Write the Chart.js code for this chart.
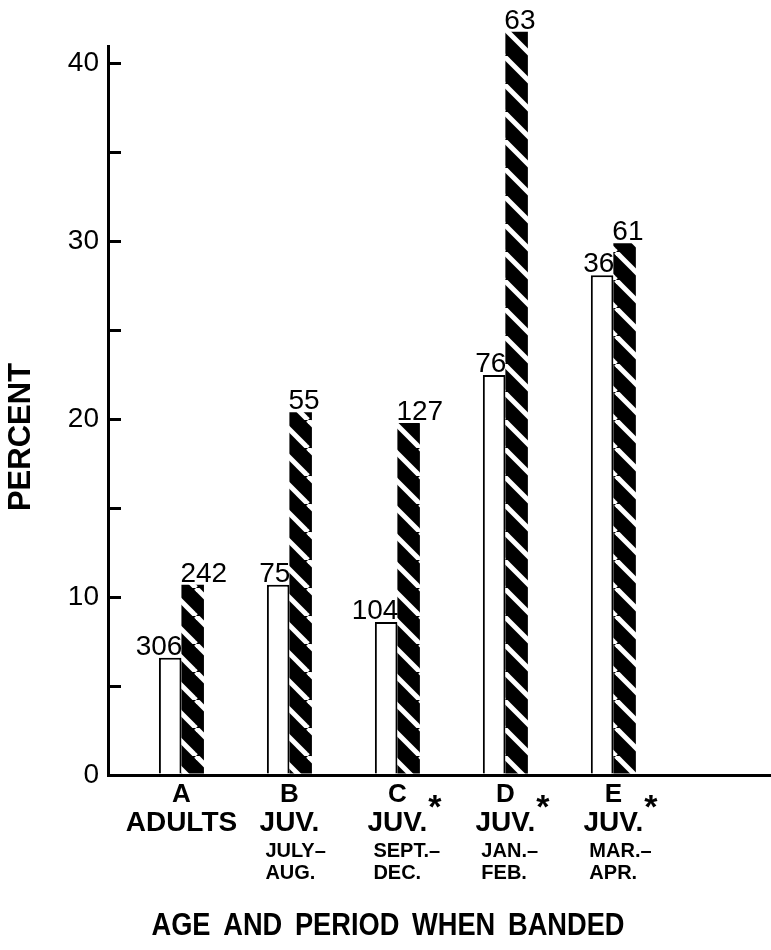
<!DOCTYPE html>
<html>
<head>
<meta charset="utf-8">
<script src="https://cdn.jsdelivr.net/npm/chart.js@4.4.0/dist/chart.umd.min.js"></script>
<style>
  body { margin: 0; background: #fff; }
  #contenedor { width: 771px; height: 950px; }
</style>
</head>
<body>
<div id="contenedor"><canvas id="grafico-bandas" width="771" height="950"></canvas></div>
<script>
// Categorias del eje X
var letras = ["A", "B", "C", "D", "E"];
var grupos = ["ADULTS", "JUV.", "JUV.", "JUV.", "JUV."];
var asterisco = [false, false, true, true, true];
var periodos = [[], ["JULY–", "AUG."], ["SEPT.–", "DEC."], ["JAN.–", "FEB."], ["MAR.–", "APR."]];
var posiciones = [1, 2, 3, 4, 5];

// Porcentajes (barra blanca y barra rayada)
var blancos = [6.6, 10.7, 8.6, 22.5, 28.1];
var rayados = [10.7, 20.4, 19.8, 41.8, 29.9];

// Tamaños de muestra sobre cada barra
var nBlancos = [306, 75, 104, 76, 36];
var nRayados = [242, 55, 127, 63, 61];

// Textos de los ejes
var tituloX = "AGE AND PERIOD WHEN BANDED";
var tituloY = "PERCENT";
var marcasY = [0, 10, 20, 30, 40];

var ctx = document.getElementById("grafico-bandas").getContext("2d");

// Patron de rayas diagonales blancas sobre negro
function crearRayado() {
  var p = 28;
  var lienzo = document.createElement("canvas");
  lienzo.width = p;
  lienzo.height = p;
  var g = lienzo.getContext("2d");
  g.fillStyle = "#000";
  g.fillRect(0, 0, p, p);
  g.strokeStyle = "#fff";
  g.lineWidth = 5;
  for (var k = -1; k <= 1; k++) {
    g.beginPath();
    g.moveTo(k * p, 0);
    g.lineTo(k * p + p, p);
    g.stroke();
  }
  return ctx.createPattern(lienzo, "repeat");
}

function puntos(valores) {
  return posiciones.map(function (x, i) {
    return { x: x, y: valores[i] };
  });
}

// Etiquetas: numeros sobre barras, categorias y titulos
var etiquetas = {
  id: "etiquetas",
  afterDatasetsDraw: function (chart) {
    var c = chart.ctx;
    var conteos = [nBlancos, nRayados];
    c.save();
    c.fillStyle = "#000";
    c.textBaseline = "alphabetic";
    c.font = "28px 'Liberation Sans'";
    chart.data.datasets.forEach(function (ds, d) {
      chart.getDatasetMeta(d).data.forEach(function (barra, i) {
        if (d === 0) {
          c.textAlign = "right";
          c.fillText(conteos[d][i], barra.x + barra.width / 2 + 1, barra.y - 3);
        } else {
          c.textAlign = "left";
          c.fillText(conteos[d][i], barra.x - barra.width / 2 - 1, barra.y - 3);
        }
      });
    });

    var escalaX = chart.scales.x;
    posiciones.forEach(function (p, i) {
      var cx = escalaX.getPixelForValue(p);
      c.textAlign = "center";
      c.font = "bold 26px 'Liberation Sans'";
      c.fillText(letras[i], cx, 802);
      c.font = "bold 28px 'Liberation Sans'";
      c.fillText(grupos[i], cx, 831);
      if (asterisco[i]) {
        var w = c.measureText(grupos[i]).width;
        c.textAlign = "left";
        c.font = "bold 34px 'Liberation Sans'";
        c.fillText("*", cx + w / 2 + 1, 818);
      }
      c.textAlign = "left";
      c.font = "bold 20px 'Liberation Sans'";
      periodos[i].forEach(function (t, j) {
        c.fillText(t, cx - 24, 857 + j * 22);
      });
    });

    c.textAlign = "center";
    c.font = "bold 32px 'Liberation Sans'";
    c.wordSpacing = "6px";
    c.fillText(tituloX, 388, 935, 473);
    c.wordSpacing = "0px";
    c.translate(21, 437);
    c.rotate(-Math.PI / 2);
    c.textBaseline = "middle";
    c.font = "bold 31px 'Liberation Sans'";
    c.fillText(tituloY, 0, 0);
    c.restore();
  }
};

var data = {
  datasets: [
    {
      data: puntos(blancos),
      backgroundColor: "#fff",
      borderColor: "#000",
      borderWidth: 2,
      clip: false,
    },
    {
      data: puntos(rayados),
      backgroundColor: crearRayado(),
      borderWidth: 0,
      clip: false,
    },
  ],
};

var options = {
  responsive: false,
  animation: false,
  layout: { padding: { top: 46, left: 0, right: 0, bottom: 0 } },
  plugins: {
    legend: { display: false },
    tooltip: { enabled: false },
  },
  datasets: {
    bar: { categoryPercentage: 0.417, barPercentage: 1 },
  },
  scales: {
    x: {
      type: "linear",
      offset: false,
      min: 0.32,
      max: 6.46,
      grid: { display: false },
      ticks: { display: false, stepSize: 1, includeBounds: false },
      border: { display: true, color: "#000", width: 3 },
      afterFit: function (escala) {
        escala.height = 175;
      },
    },
    y: {
      min: 0,
      max: 41,
      ticks: {
        stepSize: 5,
        includeBounds: false,
        padding: 22,
        color: "#000",
        font: { family: "Liberation Sans", size: 28 },
        callback: function (v) {
          return marcasY.indexOf(v) >= 0 ? v : "";
        },
      },
      grid: {
        drawOnChartArea: false,
        drawTicks: true,
        tickLength: -13,
        lineWidth: 3,
        color: "#000",
      },
      border: { display: true, color: "#000", width: 3 },
      afterFit: function (escala) {
        escala.width = 108;
      },
    },
  },
};

var miGrafico = new Chart(ctx, {
  type: "bar",
  data: data,
  options: options,
  plugins: [etiquetas],
});
</script>
</body>
</html>
